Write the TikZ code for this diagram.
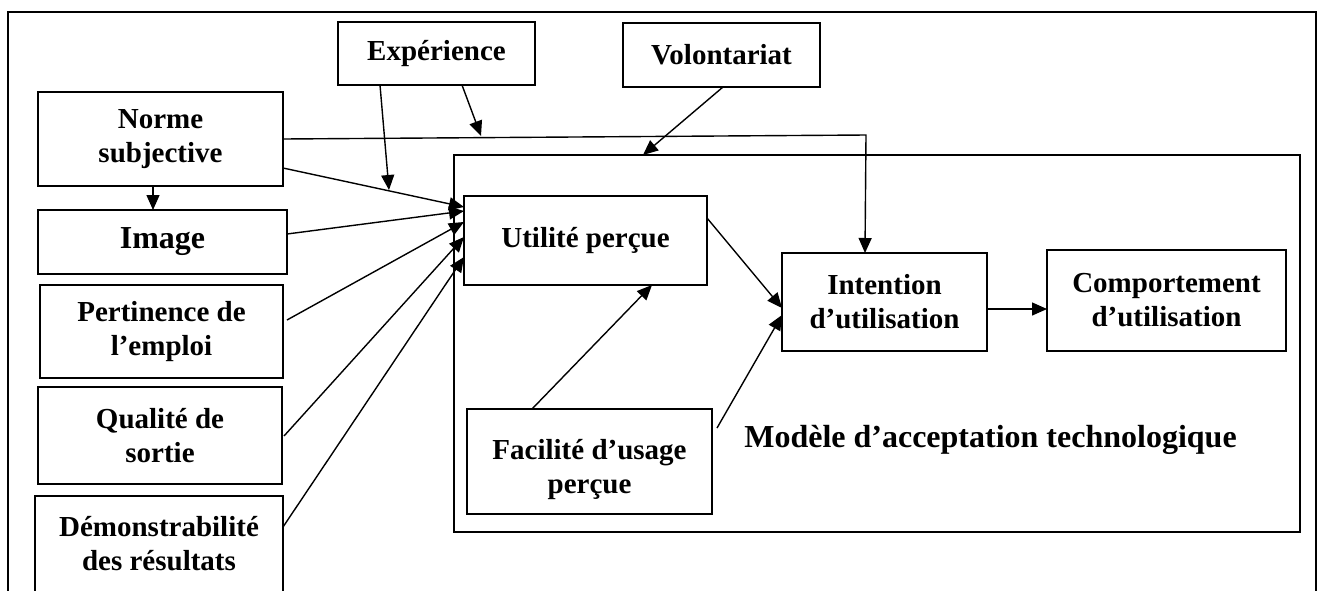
\documentclass[tikz,border=0pt]{standalone}
\usepackage{fontspec}
\setmainfont{Liberation Serif}
\usetikzlibrary{arrows.meta}

\tikzset{
  box/.style={draw, line width=1pt, inner sep=0pt, outer sep=0pt, align=center,
              font=\bfseries\fontsize{14.5}{17}\selectfont},
  lbl/.style={inner sep=0pt, align=center, font=\bfseries\fontsize{14.5}{17}\selectfont},
  arr/.style={line width=0.7pt, -{Triangle[length=7.5pt,width=6.5pt]}},
  link/.style={line width=0.7pt},
  frame/.style={line width=0.9pt}
}

\begin{document}
\begin{tikzpicture}[x=0.5pt, y=-0.5pt]
  % page area
  \useasboundingbox (0,0) rectangle (1322,590);
  \clip (0,0) rectangle (1322,590);
  \fill[white] (0,0) rectangle (1322,590);

  % surrounding frame (open at the bottom edge)
  \draw[frame] (8,620) -- (8,12) -- (1316,12) -- (1316,620);

  % moderators
  \node[box, minimum width=98.5pt, minimum height=31.5pt] (exp) at (436.5,53.5) {Expérience};
  \node[box, minimum width=98.5pt, minimum height=32pt]   (vol) at (721.5,55)   {Volontariat};

  % external determinants
  \node[box, minimum width=122.5pt, minimum height=47pt] (norme) at (160.5,139) {Norme\\subjective};
  \node[box, minimum width=124.5pt, minimum height=32pt,
        font=\bfseries\fontsize{16}{19}\selectfont]      (image) at (162.5,242) {Image};
  \node[box, minimum width=121.5pt, minimum height=46.5pt] (pert) at (161.5,331.5) {Pertinence de\\l’emploi};
  \node[box, minimum width=122pt, minimum height=48.5pt]   (qual) at (160,435.5) {Qualité de\\sortie};
  \node[box, minimum width=124pt, minimum height=48pt]     (demo) at (159,544) {Démonstrabilité\\des résultats};

  % technology acceptance model
  \node[box, minimum width=423pt, minimum height=188.5pt] (tam) at (877,343.5) {};
  \node[box, minimum width=121.5pt, minimum height=44.5pt] (util) at (585.5,240.5) {Utilité perçue};
  \node[box, minimum width=122.5pt, minimum height=52.5pt] (facil) at (589.5,461.5) {};
  \node[lbl] (facillbl) at ([yshift=-4pt]facil.center) {Facilité d’usage\\perçue};
  \node[box, minimum width=102.5pt, minimum height=49pt]   (inten) at (884.5,302) {Intention\\d’utilisation};
  \node[box, minimum width=119.5pt, minimum height=50.5pt] (comp) at (1166.5,300.5) {Comportement\\d’utilisation};
  \node[lbl, anchor=base, font=\bfseries\fontsize{16}{19}\selectfont] (tamlbl) at (990.5,447)
        {Modèle d’acceptation technologique};

  % determinants of perceived usefulness
  \draw[arr] (norme.south -| 153,0) -- (image.north -| 153,0);
  \draw[arr] (norme.east |- 0,168) -- (util.west |- 0,207);
  \draw[arr] (image.east |- 0,234) -- (util.west |- 0,211);
  \draw[arr] ([xshift=2pt]pert.east |- 0,320) -- (util.west |- 0,222);
  \draw[arr] ([xshift=1pt]qual.east |- 0,436) -- (util.west |- 0,237);
  \draw[arr] (demo.east |- 0,527) -- (util.west |- 0,257);

  % subjective norm acting on intention
  \coordinate (bend) at (866,135);
  \draw[arr] (norme.east |- 0,139) -- (bend) -- (inten.north -| 865,0);

  % moderating effects
  \coordinate (expA) at (389,190);
  \coordinate (expB) at (481,136);
  \draw[arr] (exp.south -| 380,0) -- (expA);
  \draw[arr] (exp.south -| 462,0) -- (expB);
  \draw[arr] (vol.south -| 723,0) -- (tam.north -| 643,0);

  % core model
  \draw[arr] (util.east |- 0,218) -- (inten.west |- 0,308);
  \draw[arr] (facil.north -| 532,0) -- (util.south -| 652,0);
  \draw[arr] ([xshift=2.5pt]facil.east |- 0,428) -- (inten.west |- 0,315);
  \draw[arr] (inten.east |- 0,309) -- (comp.west |- 0,309);
\end{tikzpicture}
\end{document}
